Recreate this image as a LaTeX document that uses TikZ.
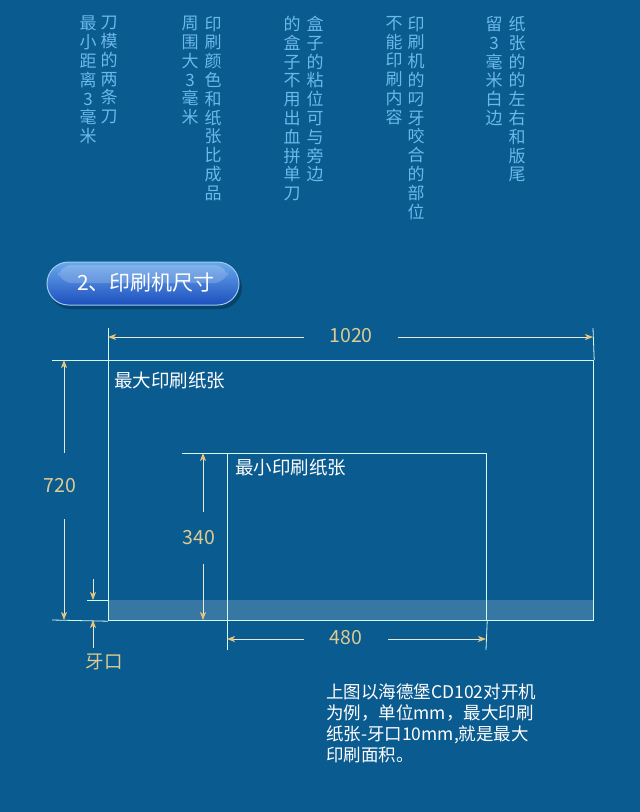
\documentclass[tikz,border=0pt]{standalone}
\usepackage{fontspec}
\setmainfont{Noto Sans CJK SC}
\usetikzlibrary{arrows.meta}
\definecolor{bg}{HTML}{0A5B8F}
\definecolor{vtext}{HTML}{6CB8EA}
\definecolor{boxline}{HTML}{D4FAF4}
\definecolor{dimline}{HTML}{E8E6D4}
\definecolor{tipgold}{HTML}{E8C47A}
\definecolor{numgold}{HTML}{DCCB92}
\definecolor{btntop}{HTML}{6AA8EC}
\definecolor{btnbot}{HTML}{1C4FBE}
\definecolor{btnedge}{HTML}{9CCBF2}
\tikzset{
  vcol/.style={anchor=north, inner sep=0pt, align=center, text=vtext,
    font=\fontsize{17pt}{18.8pt}\selectfont},
  boxframe/.style={draw=boxline, line width=1.2pt, inner sep=0pt, anchor=north west},
  extline/.style={draw=boxline, line width=0.8pt},
  dimarrow/.style={draw=dimline, line width=0.8pt,
    -{Stealth[color=tipgold,length=8pt,width=6pt,inset=2pt]}},
  numlabel/.style={text=numgold, font=\fontsize{19.5pt}{22pt}\selectfont},
  boxlabel/.style={text=white, anchor=west, inner sep=0pt, font=\fontsize{18.5pt}{22pt}\selectfont},
}
\begin{document}
\begin{tikzpicture}[x=1pt,y=-1pt]
\path[fill=bg] (0,0) rectangle (640,812);
\useasboundingbox (0,0) rectangle (640,812);

% vertical texts
\node[vcol] (c1) at (88,16) {最\\小\\距\\离\\3\\毫\\米};
\node[vcol] (c2) at (109,16) {刀\\模\\的\\两\\条\\刀};
\node[vcol] (c3) at (190,16) {周\\围\\大\\3\\毫\\米};
\node[vcol] (c4) at (213,16) {印\\刷\\颜\\色\\和\\纸\\张\\比\\成\\品};
\node[vcol] (c5) at (292,16) {的\\盒\\子\\不\\用\\出\\血\\拼\\单\\刀};
\node[vcol] (c6) at (315,16) {盒\\子\\的\\粘\\位\\可\\与\\旁\\边};
\node[vcol] (c7) at (394,16) {不\\能\\印\\刷\\内\\容};
\node[vcol] (c8) at (416,16) {印\\刷\\机\\的\\叼\\牙\\咬\\合\\的\\部\\位};
\node[vcol] (c9) at (494,16) {留\\3\\毫\\米\\白\\边};
\node[vcol] (c10) at (517,16) {纸\\张\\的\\的\\左\\右\\和\\版\\尾};

% button
\fill[black, opacity=0.25, rounded corners=21.5pt] (49,266) rectangle (242,309);
\shade[top color=btntop, bottom color=btnbot, draw=btnedge, line width=1pt, rounded corners=21.5pt]
  (47,262) rectangle (239,305);
\fill[white, opacity=0.18, rounded corners=14pt] (58,265) rectangle (228,283);
\node[text=white, font=\fontsize{21pt}{24pt}\selectfont] (btn) at (146,283) {2、印刷机尺寸};

% gripper strip
\fill[white, opacity=0.18] (108,600) rectangle (593,620);

% boxes
\node[boxframe, minimum width=485pt, minimum height=260pt] (maxbox) at (108,360) {};
\node[boxframe, minimum width=259pt, minimum height=167pt] (minbox) at (227,453) {};
\node[boxlabel] (maxlbl) at (114,381) {最大印刷纸张};
\node[boxlabel] (minlbl) at (235,467) {最小印刷纸张};

% extension lines
\coordinate (e1) at (108,328);
\coordinate (e2) at (593,328);
\coordinate (e3) at (52,360);
\coordinate (e4) at (52,620);
\coordinate (e5) at (87,600);
\coordinate (e6) at (108,600);
\coordinate (e7) at (182,453);
\coordinate (e8) at (227,650);
\coordinate (e9) at (486,650);
\path[extline] (e1) -- (maxbox.north west);
\path[extline] (e2) -- (maxbox.north east);
\path[extline] (e3) -- (maxbox.north west);
\path[extline] (e4) -- (maxbox.south west);
\path[extline] (e5) -- (e6);
\path[extline] (e7) -- (minbox.north west);
\path[extline] (e8) -- (minbox.south west);
\path[extline] (e9) -- (minbox.south east);

% 1020
\coordinate (a1L) at (108,337);
\coordinate (a1R) at (593,337);
\node[numlabel, inner xsep=25pt] (n1020) at (351,336) {1020};
\draw[dimarrow] (n1020.west |- a1L) -- (a1L);
\draw[dimarrow] (n1020.east |- a1R) -- (a1R);

% 720
\coordinate (a2T) at (64,360);
\coordinate (a2B) at (64,620);
\node[numlabel, inner ysep=26pt, inner xsep=0pt] (n720) at (60,486) {720};
\draw[dimarrow] (n720.north -| a2T) -- (a2T);
\draw[dimarrow] (n720.south -| a2B) -- (a2B);

% 340
\coordinate (a3T) at (203,453);
\coordinate (a3B) at (203,620);
\node[numlabel, inner ysep=19pt, inner xsep=0pt] (n340) at (199,538) {340};
\draw[dimarrow] (n340.north -| a3T) -- (a3T);
\draw[dimarrow] (n340.south -| a3B) -- (a3B);

% 480
\coordinate (a4L) at (227,639);
\coordinate (a4R) at (486,639);
\node[numlabel, inner xsep=26pt] (n480) at (346,638) {480};
\draw[dimarrow] (n480.west |- a4L) -- (a4L);
\draw[dimarrow] (n480.east |- a4R) -- (a4R);

% 牙口
\coordinate (g1) at (93,579);
\coordinate (g2) at (93,600);
\coordinate (g3) at (93,648);
\coordinate (g4) at (93,620);
\draw[dimarrow] (g1) -- (g2);
\draw[dimarrow] (g3) -- (g4);
\node[text=numgold, font=\fontsize{18.5pt}{22pt}\selectfont] (ykou) at (104,662) {牙口};

% note
\node[anchor=north west, inner sep=0pt, align=left, text=white,
  font=\fontsize{17.5pt}{21pt}\selectfont] (note) at (326,684)
  {上图以海德堡CD102对开机\\为例，单位mm，最大印刷\\纸张-牙口10mm,就是最大\\印刷面积。};
\end{tikzpicture}
\end{document}
